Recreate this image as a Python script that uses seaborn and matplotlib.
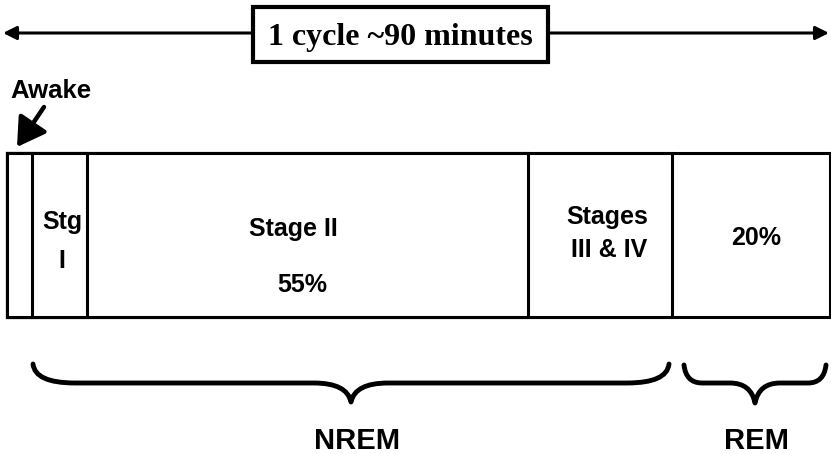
import matplotlib
matplotlib.use("Agg")
import matplotlib.pyplot as plt
from matplotlib.path import Path
from matplotlib.patches import PathPatch, Rectangle
import numpy as np
import pandas as pd
import seaborn as sns

# ---- data: one sleep cycle, length of each stage in minutes ----
stages = ["Awake", "Stg I", "Stage II", "Stages III & IV", "REM"]
minutes = [2.7, 6.0, 48.3, 15.7, 17.3]
cycle_label = "1 cycle ~90 minutes"
groups = ["NREM", "REM"]

sns.set_style("white")
plt.rcParams["font.family"] = ["Liberation Sans", "DejaVu Sans"]
plt.rcParams["text.color"] = "black"

W, H = 831, 454
fig = plt.figure(figsize=(W / 100, H / 100), dpi=100)

# ---- stacked bar (draw longest cumulative bar first) ----
ax = fig.add_axes([0, 0, 1, 1])
px_per_min = 823 / 90
df = pd.DataFrame({"stage": stages, "end": np.cumsum(minutes), "row": "cycle"})
for i in reversed(range(len(df))):
    sns.barplot(data=df.iloc[[i]], x="end", y="row", orient="h",
                color="white", saturation=1, edgecolor="black",
                linewidth=2.2, width=164, ax=ax)
ax.set_xlim(-7 / px_per_min, (W - 7) / px_per_min)
ax.set_ylim(H - 235, -235)
ax.axis("off")

# ---- overlay in pixel coordinates for annotations ----
ov = fig.add_axes([0, 0, 1, 1])
ov.set_xlim(0, W)
ov.set_ylim(H, 0)
ov.axis("off")

# top double arrow + boxed title
ov.annotate("", xy=(3, 33), xytext=(829, 33),
            arrowprops=dict(arrowstyle="<|-|>", lw=2.2, color="black",
                            mutation_scale=20, shrinkA=0, shrinkB=0), zorder=1)
ov.add_patch(Rectangle((253, 7), 295, 55, fc="white", ec="black", lw=3, zorder=3))
ov.text(400, 45, cycle_label, ha="center", va="baseline", fontsize=23,
        fontweight="bold", family=["Liberation Serif", "DejaVu Serif"], zorder=4)

# awake pointer
ov.text(51, 98, "Awake", ha="center", va="baseline", fontsize=18.5, fontweight="bold")
ov.annotate("", xy=(17, 147), xytext=(44, 107),
            arrowprops=dict(arrowstyle="-|>,head_length=0.5,head_width=0.3",
                            lw=3.2, color="black", mutation_scale=34,
                            shrinkA=0, shrinkB=0))

# labels inside the bar
lab = dict(ha="center", va="baseline", fontsize=18, fontweight="bold")
ov.text(62, 229, "Stg", **lab)
ov.text(62, 268, "I", **lab)
ov.text(293, 236, "Stage II", **lab)
ov.text(302, 292, "55%", **lab)
ov.text(607, 224, "Stages", **lab)
ov.text(609, 257, "III & IV", **lab)
ov.text(756, 245, "20%", **lab)


def brace(x0, x1, y_top, y_mid, y_tip, r, r2):
    xc = (x0 + x1) / 2
    verts = [(x0, y_top), (x0 + 2, y_mid), (x0 + r, y_mid),
             (xc - r2, y_mid),
             (xc - 4, y_mid), (xc, y_tip),
             (xc + 4, y_mid), (xc + r2, y_mid),
             (x1 - r, y_mid),
             (x1 - 2, y_mid), (x1, y_top)]
    codes = [Path.MOVETO, Path.CURVE3, Path.CURVE3,
             Path.LINETO,
             Path.CURVE3, Path.CURVE3,
             Path.CURVE3, Path.CURVE3,
             Path.LINETO,
             Path.CURVE3, Path.CURVE3]
    ov.add_patch(PathPatch(Path(verts, codes), fc="none", ec="black",
                           lw=3.5, capstyle="round", joinstyle="round"))
    return xc


grp = dict(ha="center", va="baseline", fontsize=21, fontweight="bold",
           family=["Liberation Sans Narrow", "Liberation Sans", "DejaVu Sans"])
brace(33, 669, 364, 383, 402, 42, 37)
ov.text(357, 449, groups[0], **grp)
brace(684, 826, 365, 383, 403, 18, 25)
ov.text(757, 449, groups[1], **grp)

fig.savefig("out.png", dpi=100)
